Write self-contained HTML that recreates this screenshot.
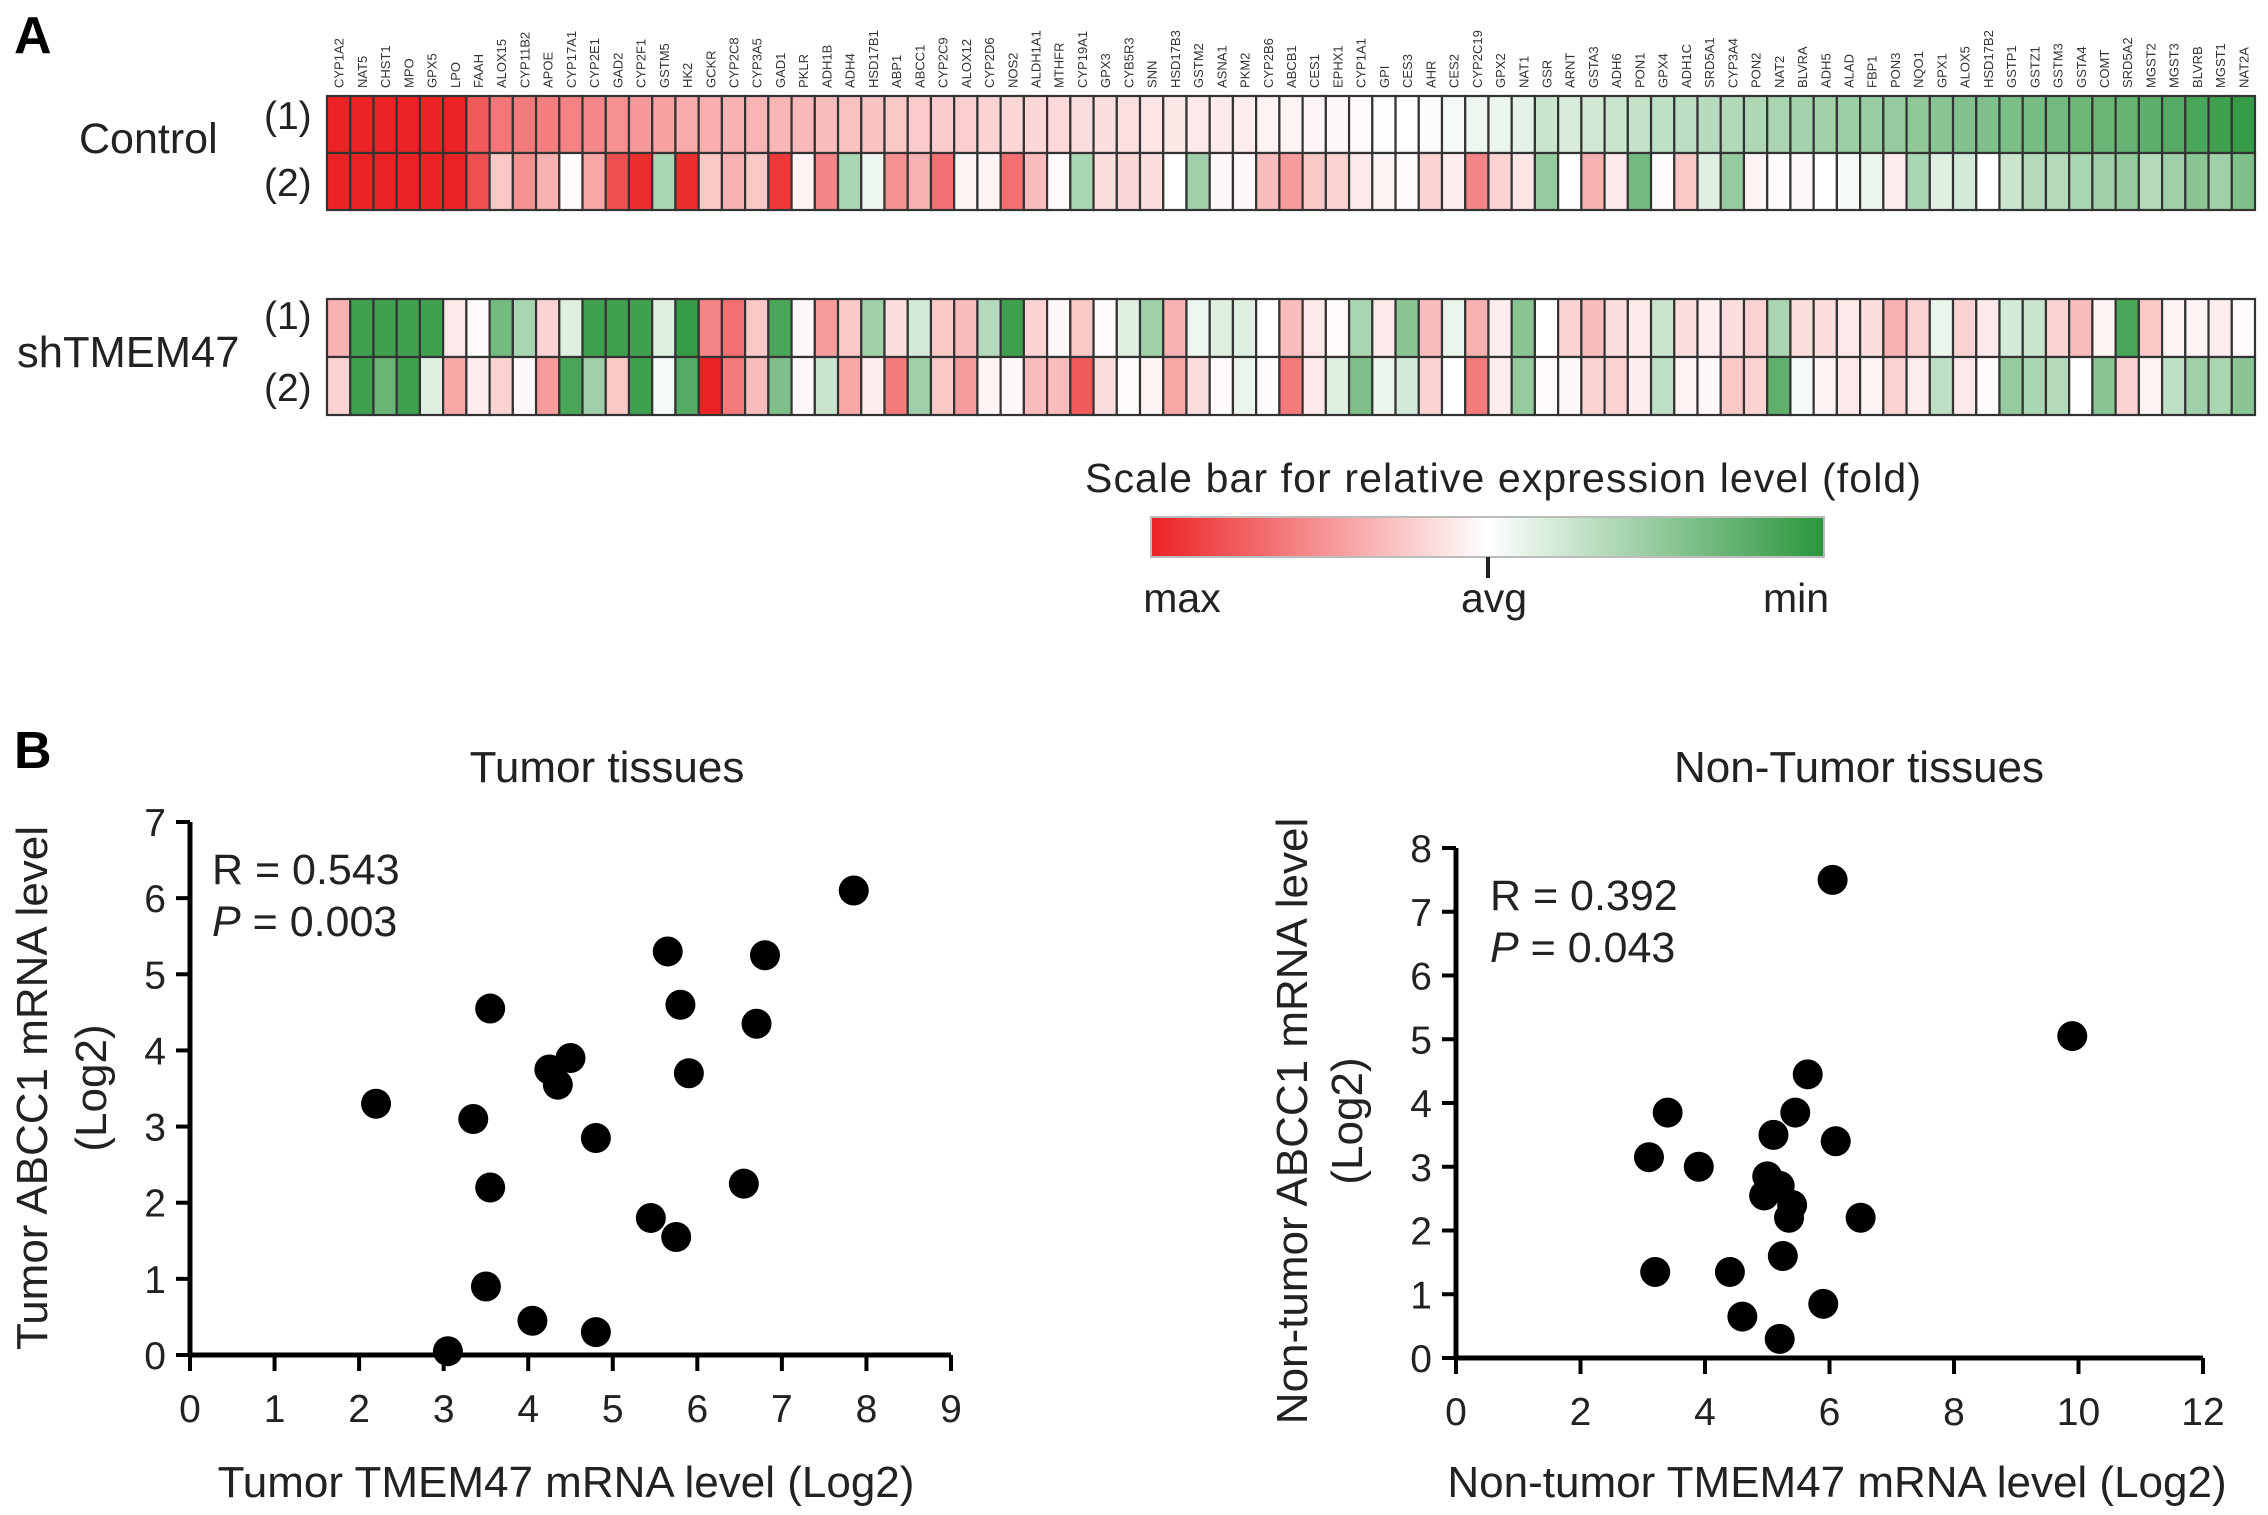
<!DOCTYPE html>
<html><head><meta charset="utf-8">
<style>
html,body{margin:0;padding:0;background:#fff;}
svg{display:block;font-family:"Liberation Sans",Arial,sans-serif;}
</style></head>
<body>
<svg id="fig" width="2268" height="1515" viewBox="0 0 2268 1515" xmlns="http://www.w3.org/2000/svg">
<defs>
<linearGradient id="scaleGrad" x1="0" x2="1" y1="0" y2="0">
<stop offset="0" stop-color="#ed2224"/><stop offset="0.5" stop-color="#ffffff"/><stop offset="1" stop-color="#2a963c"/>
</linearGradient>
</defs>
<text x="14" y="53" font-size="52" font-weight="bold">A</text>
<text x="14" y="768" font-size="52" font-weight="bold">B</text>
<text x="79" y="153" font-size="43" fill="#222">Control</text>
<text x="264" y="129" font-size="39" fill="#222">(1)</text>
<text x="264" y="196" font-size="39" fill="#222">(2)</text>
<text x="17" y="367" font-size="43.5" fill="#222">shTMEM47</text>
<text x="264" y="329" font-size="39" fill="#222">(1)</text>
<text x="264" y="401" font-size="39" fill="#222">(2)</text>
<g id="heat"></g>
<g id="genes"></g>
<text x="1503" y="492" font-size="41" fill="#222" text-anchor="middle" textLength="836">Scale bar for relative expression level (fold)</text>
<rect x="1151" y="517" width="673" height="40" fill="url(#scaleGrad)" stroke="#bbb" stroke-width="2"/>
<line x1="1488" y1="557" x2="1488" y2="578" stroke="#222" stroke-width="4"/>
<text x="1182" y="612" font-size="41" fill="#222" text-anchor="middle">max</text>
<text x="1494" y="612" font-size="41" fill="#222" text-anchor="middle">avg</text>
<text x="1796" y="612" font-size="41" fill="#222" text-anchor="middle">min</text>
<g id="plotL"></g>
<g id="plotR"></g>
</svg>
<script>
const NS="http://www.w3.org/2000/svg";
// ---- heatmap data ----
const genes=["CYP1A2","NAT5","CHST1","MPO","GPX5","LPO","FAAH","ALOX15","CYP11B2","APOE","CYP17A1","CYP2E1","GAD2","CYP2F1","GSTM5","HK2","GCKR","CYP2C8","CYP3A5","GAD1","PKLR","ADH1B","ADH4","HSD17B1","ABP1","ABCC1","CYP2C9","ALOX12","CYP2D6","NOS2","ALDH1A1","MTHFR","CYP19A1","GPX3","CYB5R3","SNN","HSD17B3","GSTM2","ASNA1","PKM2","CYP2B6","ABCB1","CES1","EPHX1","CYP1A1","GPI","CES3","AHR","CES2","CYP2C19","GPX2","NAT1","GSR","ARNT","GSTA3","ADH6","PON1","GPX4","ADH1C","SRD5A1","CYP3A4","PON2","NAT2","BLVRA","ADH5","ALAD","FBP1","PON3","NQO1","GPX1","ALOX5","HSD17B2","GSTP1","GSTZ1","GSTM3","GSTA4","COMT","SRD5A2","MGST2","MGST3","BLVRB","MGST1","NAT2A"];
const control1=[1,1,1,1,1,1,.75,.62,.6,.58,.56,.54,.5,.46,.42,.38,.36,.35,.34,.33,.32,
.3,.28,.27,.25,.24,.23,.22,.2,.19,.18,.17,.16,.15,.14,.12,.11,.1,.09,.08,.06,
.05,.04,.03,.02,.01,0,-.02,-.05,-.08,-.1,-.12,-.25,-.18,-.22,-.25,-.28,-.3,-.32,-.34,-.36,-.38,-.4,-.42,-.44,-.46,-.48,-.5,-.52,-.55,-.58,-.6,-.62,-.64,-.66,-.68,-.7,-.72,-.76,-.8,-.85,-.9,-.95];
const control2=[1,1,1,1,1,1,.8,.25,.5,.35,.02,.4,.8,.95,-.4,.95,.25,.35,.25,.9,.05,
.55,-.4,-.08,.5,.35,.65,.05,.05,.65,.3,.02,-.4,.15,.18,.15,0,-.45,.03,.03,.3,
.45,.25,.2,.1,.05,.02,.2,.08,.55,.2,.12,-.5,0,.35,.1,-.65,.02,.25,-.15,-.5,.05,.02,.03,0,-.05,-.1,.08,-.4,-.15,-.2,0,-.25,-.35,-.35,-.4,-.45,-.5,-.35,-.45,-.55,-.45,-.6];
const sh1=[.35,-.9,-.9,-.9,-.9,.1,.02,-.65,-.4,.2,-.15,-.9,-.9,-.9,-.15,-.95,.55,.65,.25,-.85,.03,
.45,.25,-.45,.15,-.2,.25,.3,-.35,-.9,.2,.03,.25,.02,-.15,-.45,.35,-.08,-.15,-.15,0,
.3,.1,.02,-.4,.1,-.55,.3,-.1,.35,.08,-.55,0,.2,.3,.15,.1,-.25,.15,.08,.15,.2,-.4,.15,.15,.1,.15,.35,.2,-.1,.2,.1,-.2,-.25,.2,.3,.05,-.85,.25,.05,.05,.08,.02];
const sh2=[.2,-.9,-.7,-.9,-.15,.4,.08,.2,.03,.45,-.85,-.45,.25,-.9,-.05,-.8,1,.6,.3,-.6,.03,
-.25,.4,.08,.6,-.45,.25,.45,.05,.03,.3,.3,.75,.15,.02,.05,.4,.15,.02,-.1,.02,
.6,.1,-.15,-.6,-.1,-.2,.2,0,.6,.08,-.5,.02,.03,.2,.2,.08,-.3,.05,.03,.25,.2,-.75,-.05,.05,.1,.05,.2,.08,-.3,.1,.02,-.5,-.4,-.35,0,-.55,.2,.05,-.3,-.45,-.4,-.55];
const heatRows=[control1,control2,sh1,sh2];
const rowNames=["control-rep1","control-rep2","shtmem47-rep1","shtmem47-rep2"];
// ---- scatter data ----
const tumorX=[2.2,3.05,3.35,3.5,3.55,3.55,4.05,4.25,4.35,4.5,4.8,4.8,5.45,5.65,5.75,5.8,5.9,6.55,6.7,6.8,7.85];
const tumorY=[3.3,0.05,3.1,0.9,2.2,4.55,0.45,3.75,3.55,3.9,2.85,0.3,1.8,5.3,1.55,4.6,3.7,2.25,4.35,5.25,6.1];
const normX=[3.1,3.2,3.4,3.9,4.4,4.6,4.95,5.0,5.1,5.2,5.2,5.25,5.35,5.4,5.45,5.65,5.9,6.05,6.1,6.5,9.9];
const normY=[3.15,1.35,3.85,3.0,1.35,0.65,2.55,2.85,3.5,2.7,0.3,1.6,2.2,2.4,3.85,4.45,0.85,7.5,3.4,2.2,5.05];
const tumorXTicks=[0,1,2,3,4,5,6,7,8,9];
const tumorYTicks=[0,1,2,3,4,5,6,7];
const normXTicks=[0,2,4,6,8,10,12];
const normYTicks=[0,1,2,3,4,5,6,7,8];

function mk(tag,attrs,parent){const e=document.createElementNS(NS,tag);for(const k in attrs)e.setAttribute(k,attrs[k]);parent.appendChild(e);return e;}
function color(v){
  const a=Math.min(1,Math.abs(v));
  const t=v>=0?[237,34,36]:[42,150,60];
  return "rgb("+t.map(c=>Math.round(255+(c-255)*a)).join(",")+")";
}
const hx0=327,hx1=2255,nC=genes.length,cw=(hx1-hx0)/nC;
const rowY=[[96,153],[153,210],[299,357],[357,415]];
const heat=document.getElementById("heat");
heatRows.forEach((row,ri)=>{
  row.forEach((v,ci)=>{
    const r=mk("rect",{x:hx0+ci*cw,y:rowY[ri][0],width:cw,height:rowY[ri][1]-rowY[ri][0],fill:color(v),stroke:"#333","stroke-width":2.2},heat);
    
    
  });
});
const gl=document.getElementById("genes");
genes.forEach((g,ci)=>{
  const x=hx0+(ci+0.5)*cw+5;
  const t=mk("text",{x:0,y:0,transform:"translate("+x+",88) rotate(-90)","font-size":13,fill:"#333"},gl);
  t.textContent=g;
  
  
});

function scatter(gid,o){
  const g=document.getElementById(gid);
  const sx=v=>o.x0+(v-o.xmin)/(o.xmax-o.xmin)*(o.x1-o.x0);
  const sy=v=>o.y0-(v-o.ymin)/(o.ymax-o.ymin)*(o.y0-o.y1);
  const ax=mk("line",{x1:sx(o.xmin),x2:sx(o.xmax),y1:o.y0,y2:o.y0,stroke:"#000","stroke-width":5},g);
  
  
  const ay=mk("line",{x1:o.x0,x2:o.x0,y1:o.y0+2,y2:sy(o.ymax),stroke:"#000","stroke-width":5},g);
  
  
  o.xt.forEach(v=>{
    const l=mk("line",{x1:sx(v),x2:sx(v),y1:o.y0,y2:o.y0+16,stroke:"#000","stroke-width":4},g);
    
    
    const t=mk("text",{x:sx(v),y:o.y0+67,"font-size":39,"text-anchor":"middle",fill:"#222"},g);
    t.textContent=v;
    
    
  });
  o.yt.forEach(v=>{
    const l=mk("line",{x1:o.x0-14,x2:o.x0,y1:sy(v),y2:sy(v),stroke:"#000","stroke-width":4},g);
    
    
    const t=mk("text",{x:o.x0-24,y:sy(v)+14,"font-size":39,"text-anchor":"end",fill:"#222"},g);
    t.textContent=v;
    
    
  });
  o.xs.forEach((xv,i)=>{
    const c=mk("circle",{cx:sx(xv),cy:sy(o.ys[i]),r:15,fill:"#000"},g);
    
    
  });
  const ti=mk("text",{x:o.tx,y:782,"font-size":44,"text-anchor":"middle",fill:"#222"},g);
  ti.textContent=o.title;
  
  
  const r=mk("text",{x:o.rx,y:o.ry,"font-size":43,fill:"#222"},g);
  r.textContent=o.rtext;
  
  
  const p=mk("text",{x:o.rx,y:o.ry+52,"font-size":43,fill:"#222"},g);
  p.innerHTML='<tspan font-style="italic">P</tspan> = '+o.ptext;
  
  
  const xt=mk("text",{x:o.xtx,y:1497,"font-size":44,"text-anchor":"middle",fill:"#222"},g);
  xt.textContent=o.xtitle;
  
  
  const y1=mk("text",{x:0,y:0,transform:"translate("+o.ytx1+","+o.ytc+") rotate(-90)","font-size":44,"text-anchor":"middle",fill:"#222"},g);
  y1.textContent=o.ytitle1;
  
  
  const y2=mk("text",{x:0,y:0,transform:"translate("+o.ytx2+","+o.ytc+") rotate(-90)","font-size":44,"text-anchor":"middle",fill:"#222"},g);
  y2.textContent="(Log2)";
  
  
}
scatter("plotL",{x0:190,x1:951,y0:1355,y1:822,xmin:0,xmax:9,ymin:0,ymax:7,xt:tumorXTicks,yt:tumorYTicks,xs:tumorX,ys:tumorY,
  title:"Tumor tissues",tx:607,rx:212,ry:884,rtext:"R = 0.543",ptext:"0.003",xtitle:"Tumor TMEM47 mRNA level (Log2)",xtx:566,
  ytitle1:"Tumor ABCC1 mRNA level",ytx1:47,ytx2:106,ytc:1088});
scatter("plotR",{x0:1456,x1:2203,y0:1358,y1:848,xmin:0,xmax:12,ymin:0,ymax:8,xt:normXTicks,yt:normYTicks,xs:normX,ys:normY,
  title:"Non-Tumor tissues",tx:1859,rx:1490,ry:910,rtext:"R = 0.392",ptext:"0.043",xtitle:"Non-tumor TMEM47 mRNA level (Log2)",xtx:1837,
  ytitle1:"Non-tumor ABCC1 mRNA level",ytx1:1307,ytx2:1362,ytc:1121});
</script>
</body></html>
